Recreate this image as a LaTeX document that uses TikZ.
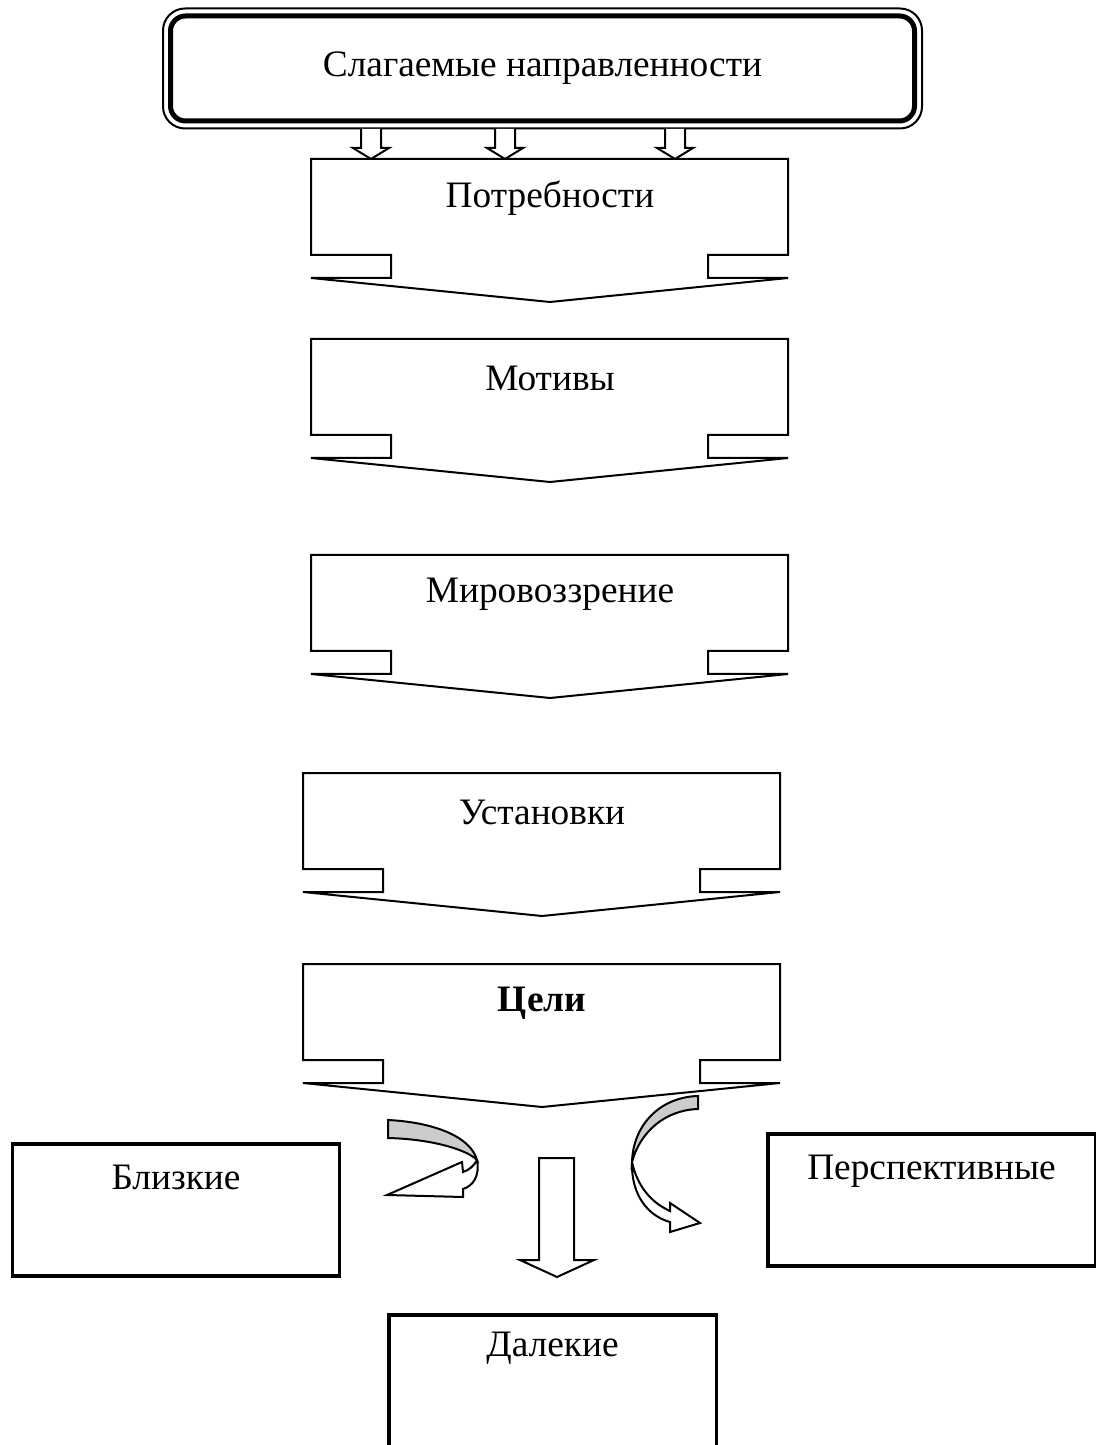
\documentclass[tikz,border=0pt]{standalone}
\usepackage{fontspec}
\setmainfont{Liberation Serif}
\usepackage{tikz}
\usetikzlibrary{positioning, calc}
\definecolor{band}{HTML}{CCCCCC}

\begin{document}
\begin{tikzpicture}[x=0.3pt, y=-0.3pt,
    font=\fontsize{11.2}{13}\selectfont,
    callout/.style={draw, line width=0.6pt, fill=white},
    hollow/.style={draw, line width=0.6pt, fill=white},
    twist/.style={draw, line width=0.6pt, fill=band},
    goalbox/.style={draw, line width=1pt, minimum width=98.2pt,
      minimum height=39.6pt, inner ysep=0pt,
      text height=13.5pt, text depth=26.1pt}]
  \useasboundingbox (0,0) rectangle (1096,1445);

  % top frame
  \node[draw, line width=1.5pt, rounded corners=4.5pt, fill=white,
    minimum width=223.2pt, minimum height=31.5pt, outer sep=0pt]
    (src) at (542.5,68.5) {Слагаемые направленности};
  \draw[line width=0.6pt, rounded corners=6.6pt]
    ([shift={(-7.5,7.5)}]src.south west) rectangle ([shift={(7.5,-7.5)}]src.north east);
  \foreach \ax in {371,505,675}
    \draw[hollow] (\ax-10,129) |- (\ax-18,148) -- (\ax,159)
      -- (\ax+18,148) -| (\ax+10,129);

  % chevrons
  \foreach \L/\T/\nm/\txt in {311/159/need/Потребности, 311/339/motive/Мотивы,
      311/555/view/Мировоззрение, 303/773/attitude/Установки,
      303/964/goal/\textbf{Цели}} {
    \draw[callout] (\L,\T) -- ++(477,0) -- ++(0,96) -- ++(-80,0) -- ++(0,23)
      -- ++(80,0) -- (\L+239,\T+143) -- (\L,\T+119) -- ++(80,0)
      -- ++(0,-23) -- ++(-80,0) -- cycle;
    \node (\nm) at (\L+239,\T+39) {\txt};
  }

  % goals
  \node[goalbox] (near) at (176,1210) {Близкие};
  \node[goalbox] (persp) at (931.5,1200) {Перспективные};
  \node[goalbox, minimum height=42pt, text height=12.3pt, text depth=29.7pt]
    (far) at (552.5,1385) {Далекие};

  \draw[twist] (388,1120) .. controls (430,1122) and (470,1135) .. (477,1160)
    .. controls (466,1149) and (430,1139) .. (388,1138) -- cycle;
  \draw[hollow] (477,1160) .. controls (480,1176) and (473,1186) .. (463,1189)
    -- (463,1197) -- (387,1195) -- (462,1162) -- (463,1172)
    .. controls (469,1170) and (474,1166) .. (477,1160);

  \draw[twist] (698,1096) .. controls (660,1097) and (633,1125) .. (632,1162)
    .. controls (640,1132) and (665,1110) .. (698,1109) -- cycle;
  \draw[hollow] (632,1162) .. controls (631,1195) and (648,1216) .. (670,1222)
    -- (670,1232) -- (700,1223) -- (670,1203) -- (670,1211)
    .. controls (650,1202) and (637,1185) .. (632,1162);

  \draw[hollow] (539,1158) -- (574,1158) -- (574,1260) -- (594,1260)
    -- (557,1277) -- (520,1260) -- (539,1260) -- cycle;
\end{tikzpicture}
\end{document}
